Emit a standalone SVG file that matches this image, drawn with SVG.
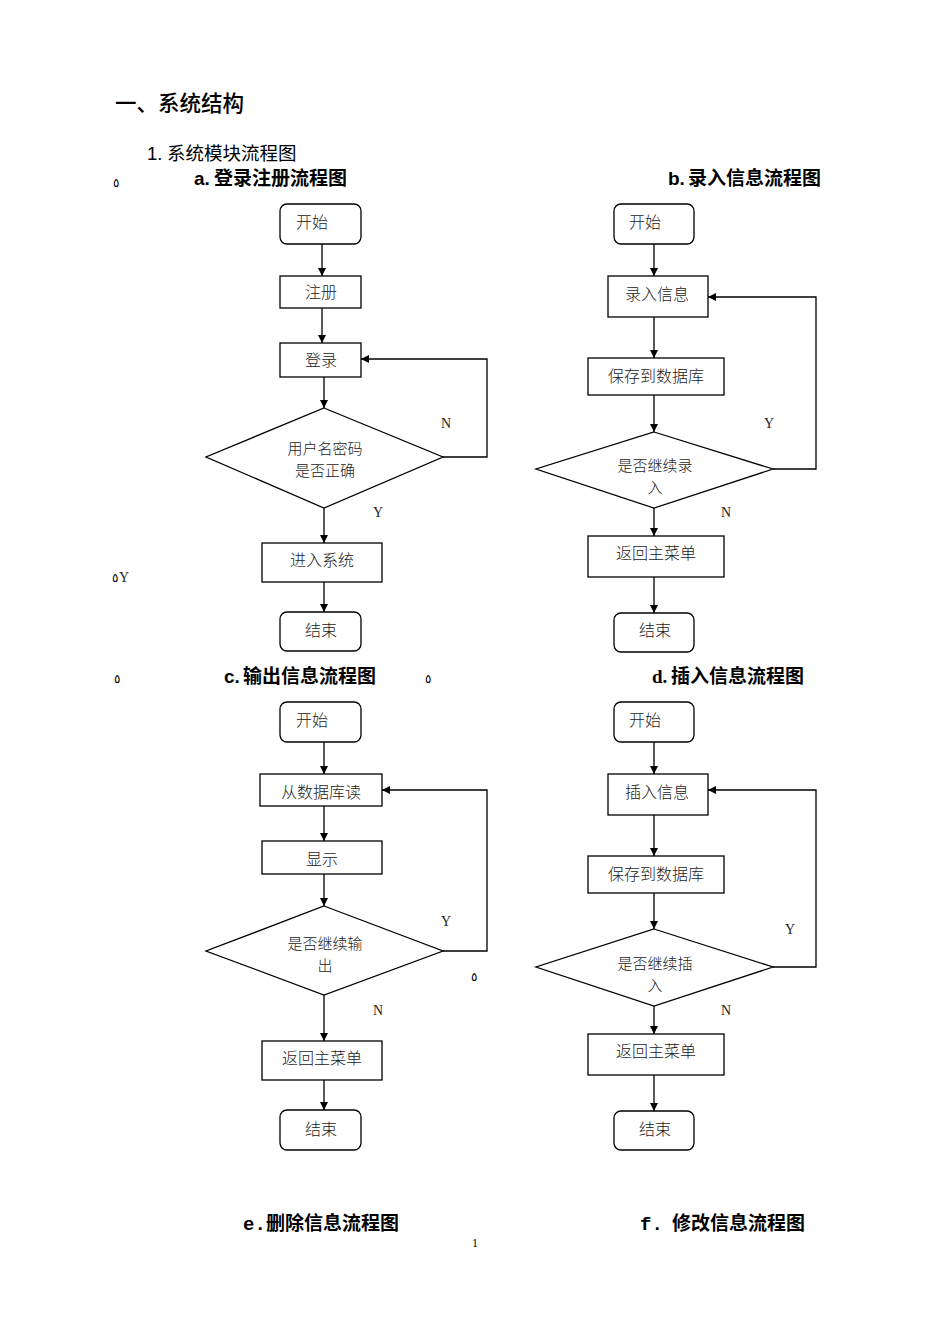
<svg xmlns="http://www.w3.org/2000/svg" width="950" height="1344" viewBox="0 0 950 1344">
<style>
.bg{fill:#fff}
.box{fill:#fff;stroke:#000;stroke-width:1.3}
.ln{fill:none;stroke:#000;stroke-width:1.3}
.nt{font-family:"Noto Sans CJK SC","Noto Sans CJK JP",sans-serif;font-size:16px;fill:#222;text-anchor:middle;font-weight:300}
.dt{font-family:"Noto Sans CJK SC","Noto Sans CJK JP",sans-serif;font-size:15px;fill:#222;text-anchor:middle;font-weight:300}
.lb{font-family:"Liberation Serif",serif;font-size:14px;fill:#222}
.h{font-family:"Liberation Sans","Noto Sans CJK SC",sans-serif;font-size:19px;font-weight:bold;fill:#000}
.mk{font-family:"DejaVu Sans","Noto Sans",sans-serif;font-size:12px;fill:#000}
</style>
<defs>
<marker id="ar" viewBox="0 0 10 10" refX="10" refY="5" markerWidth="8" markerHeight="8" markerUnits="userSpaceOnUse" orient="auto">
<path d="M0,0 L10,5 L0,10 z" fill="#000"/>
</marker>
</defs>
<rect class="bg" x="0" y="0" width="950" height="1344"/>

<g id="headings">
<text x="115" y="111" font-family="Noto Sans CJK SC,sans-serif" font-size="21.5" font-weight="500" fill="#000">一、系统结构</text>
<text y="160" font-family="Liberation Sans,Noto Sans CJK SC,sans-serif" font-size="18.5" fill="#000"><tspan x="147">1.</tspan><tspan x="167">系统模块流程图</tspan></text>
<text class="mk" x="113" y="187">٥</text>
<text class="h" y="185"><tspan x="194">a.</tspan><tspan x="214">登录注册流程图</tspan></text>
<text class="h" y="185"><tspan x="668">b.</tspan><tspan x="688">录入信息流程图</tspan></text>
<text class="mk" x="112" y="582">٥</text>
<text class="lb" x="119" y="582">Y</text>
<text class="mk" x="114" y="683">٥</text>
<text class="h" y="683"><tspan x="224">c.</tspan><tspan x="243">输出信息流程图</tspan></text>
<text class="mk" x="425" y="683">٥</text>
<text class="h" y="683"><tspan x="652" font-family="Liberation Serif,serif">d.</tspan><tspan x="671">插入信息流程图</tspan></text>
<text class="mk" x="471" y="981">٥</text>
<text class="h" y="1230"><tspan x="243" font-family="Liberation Mono,monospace">e.</tspan><tspan x="266">删除信息流程图</tspan></text>
<text class="h" y="1230"><tspan x="640" font-family="Liberation Mono,monospace">f.</tspan><tspan x="672">修改信息流程图</tspan></text>
<text x="475" y="1247" font-family="Liberation Serif,serif" font-size="12" fill="#000" text-anchor="middle">1</text>
</g>

<g id="connectors">
<!-- a -->
<line class="ln" x1="322" y1="244" x2="322" y2="276" marker-end="url(#ar)"/>
<line class="ln" x1="322" y1="308" x2="322" y2="343" marker-end="url(#ar)"/>
<line class="ln" x1="324" y1="377" x2="324" y2="408" marker-end="url(#ar)"/>
<polyline class="ln" points="443,457 487,457 487,359 361,359" marker-end="url(#ar)"/>
<line class="ln" x1="324" y1="508" x2="324" y2="543" marker-end="url(#ar)"/>
<line class="ln" x1="324" y1="582" x2="324" y2="612" marker-end="url(#ar)"/>
<!-- b -->
<line class="ln" x1="654" y1="244" x2="654" y2="276" marker-end="url(#ar)"/>
<line class="ln" x1="654" y1="317" x2="654" y2="358" marker-end="url(#ar)"/>
<line class="ln" x1="654" y1="395" x2="654" y2="432" marker-end="url(#ar)"/>
<polyline class="ln" points="773,469 816,469 816,297 708,297" marker-end="url(#ar)"/>
<line class="ln" x1="654" y1="508" x2="654" y2="536" marker-end="url(#ar)"/>
<line class="ln" x1="654" y1="577" x2="654" y2="613" marker-end="url(#ar)"/>
<!-- c -->
<line class="ln" x1="324" y1="742" x2="324" y2="774" marker-end="url(#ar)"/>
<line class="ln" x1="324" y1="806" x2="324" y2="841" marker-end="url(#ar)"/>
<line class="ln" x1="324" y1="874" x2="324" y2="906" marker-end="url(#ar)"/>
<polyline class="ln" points="443,951 487,951 487,790 382,790" marker-end="url(#ar)"/>
<line class="ln" x1="324" y1="995" x2="324" y2="1041" marker-end="url(#ar)"/>
<line class="ln" x1="324" y1="1080" x2="324" y2="1110" marker-end="url(#ar)"/>
<!-- d -->
<line class="ln" x1="654" y1="742" x2="654" y2="774" marker-end="url(#ar)"/>
<line class="ln" x1="654" y1="815" x2="654" y2="856" marker-end="url(#ar)"/>
<line class="ln" x1="654" y1="893" x2="654" y2="929" marker-end="url(#ar)"/>
<polyline class="ln" points="773,967 816,967 816,790 708,790" marker-end="url(#ar)"/>
<line class="ln" x1="654" y1="1006" x2="654" y2="1034" marker-end="url(#ar)"/>
<line class="ln" x1="654" y1="1075" x2="654" y2="1111" marker-end="url(#ar)"/>
<!-- labels -->
<text class="lb" x="441" y="428">N</text>
<text class="lb" x="373" y="517">Y</text>
<text class="lb" x="764" y="428">Y</text>
<text class="lb" x="721" y="517">N</text>
<text class="lb" x="441" y="926">Y</text>
<text class="lb" x="373" y="1015">N</text>
<text class="lb" x="785" y="934">Y</text>
<text class="lb" x="721" y="1015">N</text>
</g>

<!-- chart a -->
<g id="a_start"><rect class="box" x="280" y="204" width="81" height="40" rx="7"/><text class="nt" x="312" y="228">开始</text></g>
<g id="a_register"><rect class="box" x="280" y="276" width="81" height="32"/><text class="nt" x="321" y="298">注册</text></g>
<g id="a_login"><rect class="box" x="280" y="343" width="81" height="34"/><text class="nt" x="321" y="366">登录</text></g>
<g id="a_check"><polygon class="box" points="324,408 443,457 324,508 206,457"/><text class="dt" x="325" y="454">用户名密码</text><text class="dt" x="325" y="476">是否正确</text></g>
<g id="a_enter"><rect class="box" x="262" y="543" width="120" height="39"/><text class="nt" x="322" y="566">进入系统</text></g>
<g id="a_end"><rect class="box" x="280" y="612" width="81" height="39" rx="7"/><text class="nt" x="321" y="636">结束</text></g>

<!-- chart b -->
<g id="b_start"><rect class="box" x="614" y="204" width="80" height="40" rx="7"/><text class="nt" x="645" y="228">开始</text></g>
<g id="b_input"><rect class="box" x="608" y="276" width="100" height="41"/><text class="nt" x="657" y="300">录入信息</text></g>
<g id="b_save"><rect class="box" x="588" y="358" width="136" height="37"/><text class="nt" x="656" y="382">保存到数据库</text></g>
<g id="b_cont"><polygon class="box" points="654,432 773,469 654,508 536,469"/><text class="dt" x="655" y="471">是否继续录</text><text class="dt" x="655" y="493">入</text></g>
<g id="b_menu"><rect class="box" x="588" y="536" width="136" height="41"/><text class="nt" x="656" y="559">返回主菜单</text></g>
<g id="b_end"><rect class="box" x="614" y="613" width="80" height="39" rx="7"/><text class="nt" x="655" y="636">结束</text></g>

<!-- chart c -->
<g id="c_start"><rect class="box" x="280" y="702" width="81" height="40" rx="7"/><text class="nt" x="312" y="726">开始</text></g>
<g id="c_read"><rect class="box" x="260" y="774" width="122" height="32"/><text class="nt" x="321" y="798">从数据库读</text></g>
<g id="c_show"><rect class="box" x="262" y="841" width="120" height="33"/><text class="nt" x="322" y="865">显示</text></g>
<g id="c_cont"><polygon class="box" points="324,906 443,951 324,995 206,951"/><text class="dt" x="325" y="949">是否继续输</text><text class="dt" x="325" y="971">出</text></g>
<g id="c_menu"><rect class="box" x="262" y="1041" width="120" height="39"/><text class="nt" x="322" y="1064">返回主菜单</text></g>
<g id="c_end"><rect class="box" x="280" y="1110" width="81" height="40" rx="7"/><text class="nt" x="321" y="1135">结束</text></g>

<!-- chart d -->
<g id="d_start"><rect class="box" x="614" y="702" width="80" height="40" rx="7"/><text class="nt" x="645" y="726">开始</text></g>
<g id="d_insert"><rect class="box" x="608" y="774" width="100" height="41"/><text class="nt" x="657" y="798">插入信息</text></g>
<g id="d_save"><rect class="box" x="588" y="856" width="136" height="37"/><text class="nt" x="656" y="880">保存到数据库</text></g>
<g id="d_cont"><polygon class="box" points="654,929 773,967 654,1006 536,967"/><text class="dt" x="655" y="969">是否继续插</text><text class="dt" x="655" y="991">入</text></g>
<g id="d_menu"><rect class="box" x="588" y="1034" width="136" height="41"/><text class="nt" x="656" y="1057">返回主菜单</text></g>
<g id="d_end"><rect class="box" x="614" y="1111" width="80" height="39" rx="7"/><text class="nt" x="655" y="1135">结束</text></g>
</svg>
